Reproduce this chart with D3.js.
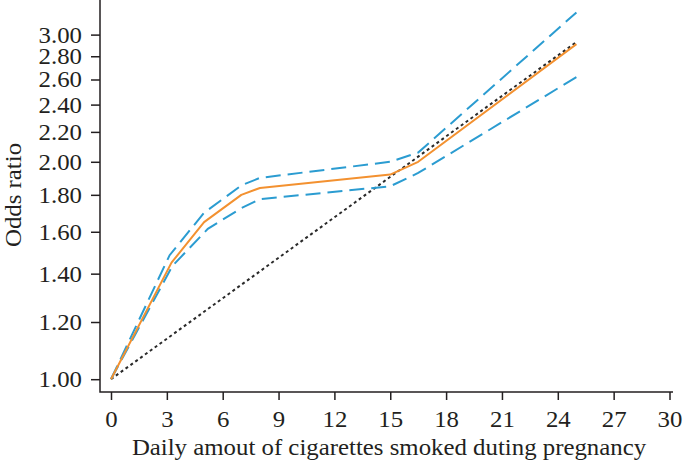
<!DOCTYPE html>
<html>
<head>
<meta charset="utf-8">
<script src="https://cdn.jsdelivr.net/npm/d3@7"></script>
<style>
  html, body { margin: 0; padding: 0; background: #fff; }
  svg text { font-family: "Liberation Serif", "Times New Roman", serif; fill: #231f20; }
</style>
</head>
<body>
<svg id="chart" width="685" height="465"></svg>
<script>
// values
var xTicks = [0, 3, 6, 9, 12, 15, 18, 21, 24, 27, 30];
var yTicks = [1.0, 1.2, 1.4, 1.6, 1.8, 2.0, 2.2, 2.4, 2.6, 2.8, 3.0];

var doseX    = [0, 3.25, 5, 7, 8, 15, 16.5, 25];
var orValues = [1.00, 1.45, 1.65, 1.80, 1.84, 1.92, 2.00, 2.91];

var upperX   = [0, 3.15, 5, 7, 8, 15, 16.5, 25];
var upperCI  = [1.00, 1.485, 1.70, 1.855, 1.90, 2.00, 2.06, 3.22];

var lowerX   = [0, 3.3, 5.2, 7, 8, 15, 16.5, 25];
var lowerCI  = [1.00, 1.435, 1.615, 1.725, 1.775, 1.85, 1.93, 2.62];

var refX     = [0, 25];
var refOR    = [1.00, 2.93];

var xTitle = "Daily amout of cigarettes smoked duting pregnancy";
var yTitle = "Odds ratio";

var svg = d3.select("#chart");
var fontSize = 23;
var stretch = 1.08;

var x = d3.scaleLinear().domain([0, 30]).range([111, 669.5]);
var y = d3.scaleLog().domain([0.96, 3.35]).range([392, 0]);

function pts(xs, ys) {
  return xs.map(function(d, i) { return [d, ys[i]]; });
}

var line = d3.line()
  .x(function(d) { return x(d[0]); })
  .y(function(d) { return y(d[1]); });

// y axis
var gy = svg.append("g")
  .attr("transform", "translate(100,0)")
  .call(d3.axisLeft(y).tickValues(yTicks).tickFormat(d3.format(".2f")).tickSize(9).tickSizeOuter(0));
gy.select(".domain").remove();
gy.selectAll(".tick line").attr("stroke", "#231f20").attr("stroke-width", 1.5);
gy.selectAll(".tick text")
  .attr("x", 0).attr("dy", null)
  .attr("transform", "translate(-18,7.5) scale(" + stretch + ",1)")
  .style("font-size", fontSize + "px");

// x axis
var gx = svg.append("g")
  .attr("transform", "translate(0,392)")
  .call(d3.axisBottom(x).tickValues(xTicks).tickSize(8).tickSizeOuter(0));
gx.select(".domain").remove();
gx.selectAll(".tick line").attr("stroke", "#231f20").attr("stroke-width", 1.5);
gx.selectAll(".tick text")
  .attr("y", 0).attr("dy", null)
  .attr("transform", "translate(0,35) scale(" + stretch + ",1)")
  .style("font-size", fontSize + "px");

// axis lines
svg.append("path")
  .attr("d", "M100,0V392H673")
  .attr("fill", "none")
  .attr("stroke", "#231f20")
  .attr("stroke-width", 1.5);

// titles
svg.append("text")
  .attr("text-anchor", "middle")
  .attr("transform", "translate(389,455) scale(" + stretch + ",1)")
  .style("font-size", fontSize + "px")
  .text(xTitle);

svg.append("text")
  .attr("text-anchor", "middle")
  .attr("transform", "translate(21,195) rotate(-90) scale(" + stretch + ",1)")
  .style("font-size", fontSize + "px")
  .text(yTitle);

// reference line
svg.append("path")
  .datum(pts(refX, refOR))
  .attr("fill", "none")
  .attr("stroke", "#2a2a2a")
  .attr("stroke-width", 2)
  .attr("stroke-dasharray", "3,3")
  .attr("d", line);

// confidence limits
[[upperX, upperCI], [lowerX, lowerCI]].forEach(function(s) {
  svg.append("path")
    .datum(pts(s[0], s[1]))
    .attr("fill", "none")
    .attr("stroke", "#2b9cd1")
    .attr("stroke-width", 2)
    .attr("stroke-dasharray", "15,7")
    .attr("d", line);
});

// estimate
svg.append("path")
  .datum(pts(doseX, orValues))
  .attr("fill", "none")
  .attr("stroke", "#f39130")
  .attr("stroke-width", 2)
  .attr("stroke-linejoin", "round")
  .attr("d", line);
</script>
</body>
</html>
